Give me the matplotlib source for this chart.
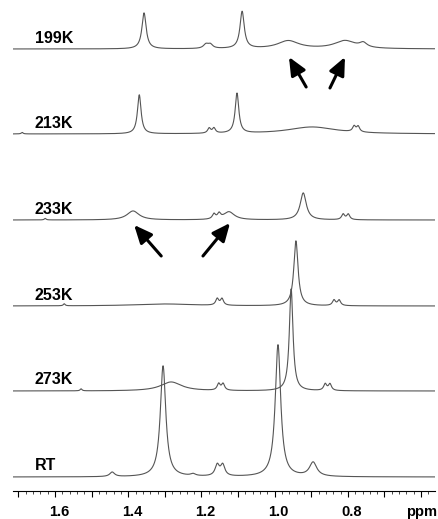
import numpy as np
import matplotlib.pyplot as plt
import matplotlib.transforms as mtransforms
from matplotlib.ticker import FixedLocator, MultipleLocator, FixedFormatter

# =========================================
# Data: peak lists per temperature
# (position in ppm, height, half width at half height in ppm)
# =========================================
LABELS = ['RT', '273K', '253K', '233K', '213K', '199K']
OFFSETS = [14, 100, 185, 271, 357, 442]

RT_PPM = [1.444, 1.305, 1.223, 1.157, 1.142, 0.991, 0.895]
RT_H = [4.5, 111, 2, 11, 11, 132, 14]
RT_W = [0.008, 0.009, 0.008, 0.007, 0.007, 0.009, 0.012]

K273_PPM = [1.529, 1.283, 1.153, 1.141, 0.955, 0.862, 0.849]
K273_H = [2, 9, 6.5, 6.5, 102, 6.5, 6.5]
K273_W = [0.003, 0.035, 0.005, 0.005, 0.006, 0.005, 0.005]

K253_PPM = [1.575, 1.30, 1.157, 1.144, 0.942, 0.838, 0.824]
K253_H = [2, 2, 6.5, 6.5, 65, 5.5, 5.5]
K253_W = [0.003, 0.10, 0.005, 0.005, 0.007, 0.005, 0.005]

K233_PPM = [1.627, 1.387, 1.166, 1.152, 1.125, 0.922, 0.813, 0.799]
K233_H = [1.5, 9, 5, 5, 8, 27, 5.5, 5.5]
K233_W = [0.003, 0.02, 0.005, 0.005, 0.018, 0.01, 0.005, 0.005]

K213_PPM = [1.690, 1.370, 1.179, 1.166, 1.103, 0.898, 0.783, 0.772]
K213_H = [1.5, 39, 5, 5, 40, 7, 5.5, 5.5]
K213_W = [0.003, 0.006, 0.005, 0.005, 0.006, 0.08, 0.005, 0.005]

K199_PPM = [1.357, 1.188, 1.176, 1.089, 0.963, 0.808, 0.758]
K199_H = [36, 4, 4, 37, 8, 8, 4.5]
K199_W = [0.007, 0.008, 0.008, 0.007, 0.035, 0.035, 0.012]

PEAKS = [
    (RT_PPM, RT_H, RT_W),
    (K273_PPM, K273_H, K273_W),
    (K253_PPM, K253_H, K253_W),
    (K233_PPM, K233_H, K233_W),
    (K213_PPM, K213_H, K213_W),
    (K199_PPM, K199_H, K199_W),
]

# arrows pointing at the exchange-broadened signals: (tail, head) in ppm / offset units
ARROW_TAILS = [(0.914, 404), (0.849, 403), (1.310, 235), (1.196, 235)]
ARROW_HEADS = [(0.961, 434), (0.808, 434), (1.384, 266), (1.122, 268)]

TICK_POS = [1.7, 1.6, 1.5, 1.4, 1.3, 1.2, 1.1, 1.0, 0.9, 0.8, 0.7, 0.6]
TICK_LABELS = ['', '1.6', '', '1.4', '', '1.2', '', '1.0', '', '0.8', '', 'ppm']

PPM_LEFT, PPM_RIGHT = 1.715, 0.562
LINE_COLOR = '#555555'


def lorentz_sum(x, pos, height, hw):
    y = np.zeros_like(x)
    for p, h, w in zip(pos, height, hw):
        y += h * w**2 / ((x - p)**2 + w**2)
    return y


ppm = np.linspace(PPM_LEFT, PPM_RIGHT, 4000)

fig = plt.figure(figsize=(4.38, 5.19), dpi=100)
ax = fig.add_axes([13 / 438, 28 / 519, 422 / 438, 491 / 519])

for label, off, (pos, h, w) in zip(LABELS, OFFSETS, PEAKS):
    ax.plot(ppm, off + lorentz_sum(ppm, pos, h, w), color=LINE_COLOR, lw=0.8)
    ax.text(1.655, off + 11, label, fontsize=11.5, fontweight='bold',
            family='Liberation Sans', ha='left', va='center')

for tail, head in zip(ARROW_TAILS, ARROW_HEADS):
    ax.annotate('', xy=head, xytext=tail,
                arrowprops=dict(arrowstyle='-|>,head_length=0.9,head_width=0.4',
                                color='black', lw=2.2, mutation_scale=12,
                                shrinkA=0, shrinkB=0))

ax.set_xlim(PPM_LEFT, PPM_RIGHT)
ax.set_ylim(0, 491)
for s in ['top', 'left', 'right']:
    ax.spines[s].set_visible(False)
ax.spines['bottom'].set_linewidth(0.8)
ax.set_yticks([])

ax.xaxis.set_major_locator(FixedLocator(TICK_POS))
ax.xaxis.set_major_formatter(FixedFormatter(TICK_LABELS))
ax.xaxis.set_minor_locator(MultipleLocator(0.02))
ax.tick_params(axis='x', which='major', length=4, width=0.8, pad=6,
               labelsize=10.5)
ax.tick_params(axis='x', which='minor', length=2, width=0.5)
shift = mtransforms.ScaledTranslation(4 / 100, 0, fig.dpi_scale_trans)
for t in ax.get_xticklabels():
    t.set_fontweight('bold')
    t.set_family('Liberation Sans')
    if t.get_text() not in ('', 'ppm'):
        t.set_transform(t.get_transform() + shift)

fig.savefig('out.png', dpi=100)
